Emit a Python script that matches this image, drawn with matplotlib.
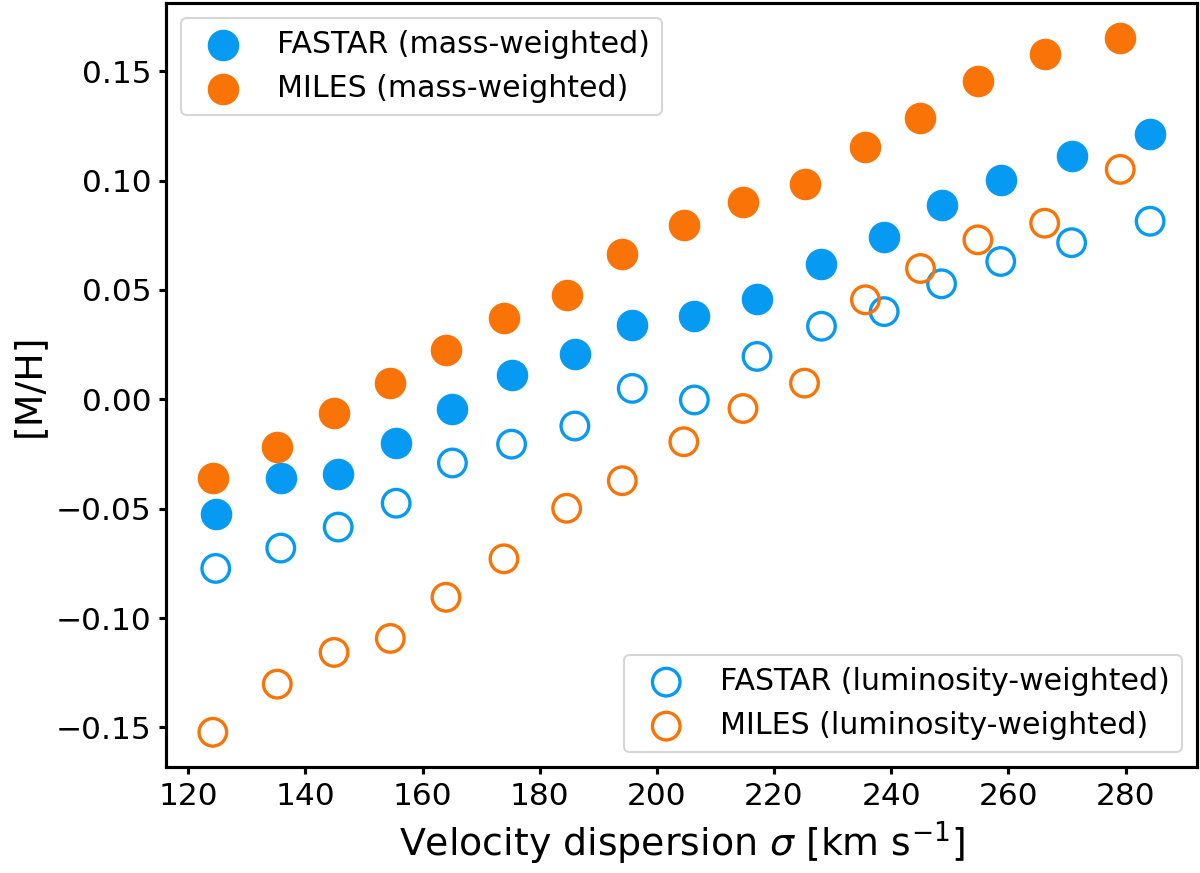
import matplotlib
matplotlib.use("Agg")
import matplotlib.pyplot as plt

# Velocity dispersion bins [km/s]
sigma_fastar = [124.7, 135.8, 145.6, 155.5, 165.1, 175.2, 186.0, 195.8,
                206.4, 217.1, 228.1, 238.8, 248.6, 258.7, 270.8, 284.2]
sigma_miles = [124.2, 135.2, 144.9, 154.5, 164.0, 173.9, 184.6, 194.1,
               204.6, 214.7, 225.2, 235.6, 245.0, 254.8, 266.2, 279.1]

# [M/H]
fastar_mass = [-0.0524, -0.0361, -0.0340, -0.0199, -0.0046, 0.0109, 0.0206, 0.0342,
               0.0383, 0.0459, 0.0618, 0.0742, 0.0887, 0.1002, 0.1112, 0.1213]
miles_mass = [-0.0358, -0.0217, -0.0064, 0.0076, 0.0224, 0.0372, 0.0475, 0.0665,
              0.0798, 0.0903, 0.0982, 0.1152, 0.1284, 0.1453, 0.1577, 0.1653]
fastar_lum = [-0.0773, -0.0680, -0.0584, -0.0475, -0.0291, -0.0205, -0.0122, 0.0050,
              -0.0003, 0.0196, 0.0334, 0.0401, 0.0528, 0.0630, 0.0716, 0.0814]
miles_lum = [-0.1522, -0.1302, -0.1157, -0.1093, -0.0905, -0.0729, -0.0498, -0.0372,
             -0.0194, -0.0042, 0.0074, 0.0455, 0.0598, 0.0729, 0.0805, 0.1051]

BLUE = "#069AF3"
ORANGE = "#F97306"

plt.rcParams["axes.linewidth"] = 1.5
plt.rcParams["xtick.major.width"] = 1.5
plt.rcParams["ytick.major.width"] = 1.5

fig = plt.figure(figsize=(8, 5.82), dpi=150)
ax = fig.add_axes([0.1383, 0.1214, 0.9975 - 0.1383, 0.9966 - 0.1214])

h1 = ax.scatter(sigma_fastar, fastar_mass, s=200, color=BLUE, label="FASTAR (mass-weighted)")
h2 = ax.scatter(sigma_miles, miles_mass, s=200, color=ORANGE, label="MILES (mass-weighted)")
h3 = ax.scatter(sigma_fastar, fastar_lum, s=175, facecolors="none", edgecolors=BLUE,
                linewidths=1.6, label="FASTAR (luminosity-weighted)")
h4 = ax.scatter(sigma_miles, miles_lum, s=175, facecolors="none", edgecolors=ORANGE,
                linewidths=1.6, label="MILES (luminosity-weighted)")

ax.set_xlabel(r"Velocity dispersion $\sigma$ [km s$^{-1}$]", fontsize=18.2)
ax.set_ylabel("[M/H]", fontsize=18.2)
ax.tick_params(labelsize=15)
ax.set_xticks([120, 140, 160, 180, 200, 220, 240, 260, 280])

leg1 = ax.legend(handles=[h1, h2], loc="upper left", fontsize=14.4)
ax.add_artist(leg1)
ax.legend(handles=[h3, h4], loc="lower right", fontsize=14.4)

fig.savefig("out.png", dpi=150)
